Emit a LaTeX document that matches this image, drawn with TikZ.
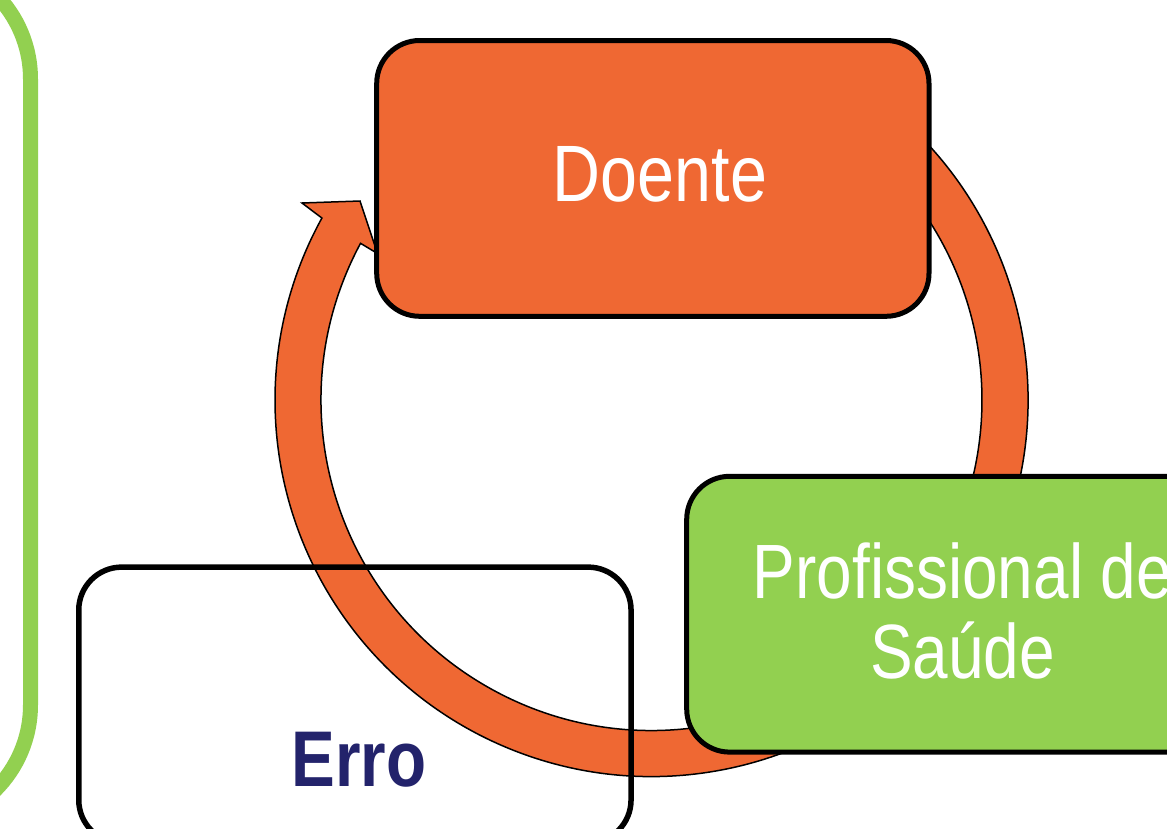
\documentclass[tikz,border=0pt]{standalone}
\usepackage{fontspec}
\setmainfont{Liberation Sans}
\newfontfamily\narrowsans[FakeStretch=0.83]{Liberation Sans}
\usetikzlibrary{calc}
\definecolor{orangefill}{HTML}{EF6833}
\definecolor{greenfill}{HTML}{92D050}
\definecolor{navytext}{HTML}{23236B}
\begin{document}
\begin{tikzpicture}[x=1pt,y=1pt,
  box/.style={draw=black, line width=5pt, rounded corners=43pt,
    minimum width=552.3pt, minimum height=275.8pt, inner sep=0pt, outer sep=0pt},
  ringarrow/.style={fill=orangefill, draw=black, line width=1.5pt, line join=miter},
  boxtext/.style={font=\narrowsans\fontsize{79}{80}\selectfont, inner sep=0pt, anchor=base}]
\useasboundingbox (0,0) rectangle (1167,-828);
\clip (0,0) rectangle (1167,-828);
% green frame at left edge
\draw[greenfill, line width=15pt, rounded corners=120pt] (-400,41) rectangle (30.5,-825);
% circular arrow
\coordinate (c) at (651.5,-400);
\coordinate (barb) at (302,-203);
\coordinate (tip) at (360,-201);
\coordinate (ibarb) at (377.5,-253.5);
\path[ringarrow] ($(c)+(65:376.5)$) arc[start angle=65, end angle=-208.9, radius=376.5]
  -- (barb) -- (tip) -- (ibarb) -- ($(c)+(-208.3:330.5)$)
  arc[start angle=-208.3, end angle=65, radius=330.5] -- cycle;
% boxes
\node[box, fill=orangefill] (doente) at (652.85,-178.4) {};
\node[box, fill=greenfill] (prof) at (962.85,-614.2) {};
\node[box, line width=5.5pt] (erro) at (354.9,-705) {};
% texts
\node[boxtext, text=white, font=\narrowsans\fontsize{80}{80}\selectfont] (tdoente) at (660,-201.7) {Doente};
\node[boxtext, text=white, font=\narrowsans\fontsize{77}{80}\selectfont] (tprof1) at (962.5,-598) {Profissional de};
\node[boxtext, text=white, font=\narrowsans\fontsize{77}{80}\selectfont] (tprof2) at (962.5,-678) {Saúde};
\node[boxtext, text=navytext, font=\narrowsans\bfseries\fontsize{79}{80}\selectfont] (terro) at (359,-786.7) {Erro};
\end{tikzpicture}
\end{document}
